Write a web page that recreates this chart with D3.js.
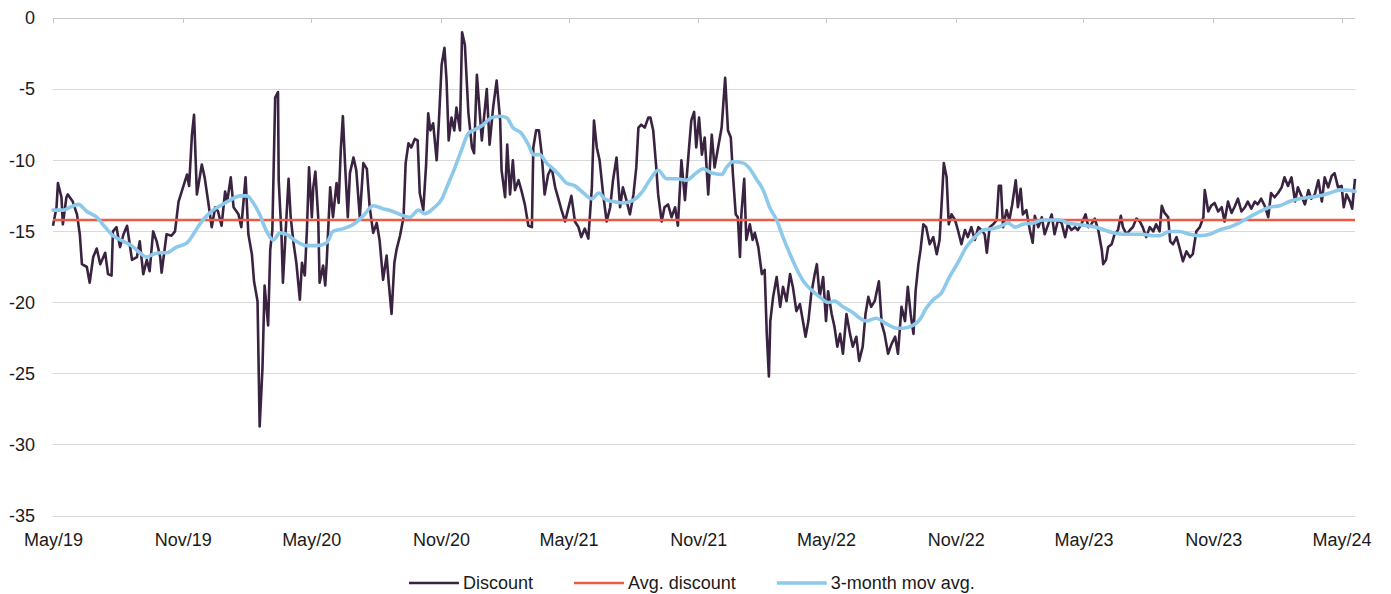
<!DOCTYPE html>
<html><head><meta charset="utf-8">
<script src="https://cdn.jsdelivr.net/npm/d3@7"></script>
<style>
body{margin:0;background:#fff}
svg{display:block}
text{font-family:"Liberation Sans",Arial,sans-serif;}
</style>
</head><body>
<svg id="chart" width="1391" height="594"></svg>
<script>
// ---------- DATA ----------
const startDate = "2019-05-01";
const axisEndDay = 1846; // axis runs to ~20 May 2024
const xTickDates = ["2019-05-01","2019-11-01","2020-05-01","2020-11-01","2021-05-01","2021-11-01",
                    "2022-05-01","2022-11-01","2023-05-01","2023-11-01","2024-05-01"];
const yTicks = [0,-5,-10,-15,-20,-25,-30,-35];
const avgDiscount = -14.2;
const seriesNames = ["Discount","Avg. discount","3-month mov avg."];

// discount observations: day offset from startDate, and value (%)
const discountDayOffsets = [
0,5,7,12,14,19,21,28,34,38,
41,48,52,57,62,67,74,78,83,85,
90,95,100,105,112,119,123,128,133,137,
142,147,152,154,161,168,173,178,185,190,
193,197,200,204,211,215,220,225,230,234,
239,244,247,252,256,263,267,273,277,282,
285,290,293,297,300,305,308,311,315,319,
320,324,326,330,334,337,341,345,350,353,
357,360,363,367,369,372,376,378,383,386,
388,393,397,402,405,408,411,414,418,421,
426,430,435,440,445,449,454,459,463,468,
473,476,480,484,487,492,497,500,504,508,
513,517,520,525,529,532,535,539,544,547,
551,555,558,561,565,569,572,577,580,584,
589,594,597,601,608,615,619,624,629,634,
636,641,644,648,652,655,660,664,669,674,
679,681,685,689,693,697,702,707,712,716,
721,726,730,735,740,745,749,754,759,764,
767,771,775,780,785,790,794,799,804,808,
813,818,823,827,830,834,839,844,847,851,
855,858,863,867,872,877,882,886,891,896,
901,905,909,912,916,920,924,929,934,938,
943,948,953,957,961,964,968,971,974,976,
980,983,988,992,995,1000,1005,1009,1012,1015,
1017,1021,1026,1031,1035,1040,1045,1049,1054,1059,
1064,1067,1071,1075,1080,1083,1087,1092,1096,1099,
1104,1108,1112,1116,1120,1125,1130,1134,1139,1143,
1148,1152,1156,1160,1165,1171,1175,1179,1184,1189,
1194,1198,1203,1208,1212,1216,1220,1223,1227,1230,
1234,1238,1243,1248,1253,1257,1261,1263,1267,1270,
1274,1279,1283,1288,1293,1297,1302,1307,1312,1316,
1321,1324,1328,1333,1338,1341,1344,1347,1352,1356,
1360,1365,1368,1372,1375,1380,1385,1389,1392,1397,
1402,1406,1411,1416,1420,1425,1430,1435,1439,1444,
1449,1453,1458,1464,1468,1472,1477,1482,1487,1489,
1493,1496,1501,1505,1510,1514,1517,1522,1527,1531,
1536,1541,1545,1550,1555,1560,1564,1569,1572,1576,
1581,1584,1588,1593,1597,1602,1607,1612,1616,1621,
1626,1631,1633,1638,1642,1647,1652,1657,1661,1666,
1671,1675,1680,1685,1690,1694,1699,1704,1708,1713,
1718,1723,1727,1732,1737,1742,1746,1751,1756,1761,
1765,1770,1775,1780,1784,1789,1794,1799,1803,1808,
1813,1817,1822,1827,1830,1834,1839,1842,1846
];
const discountValues = [
-14.6,-13.3,-11.6,-12.6,-14.5,-12.6,-12.4,-12.9,-13.8,-15.2,
-17.3,-17.5,-18.6,-16.8,-16.2,-17.3,-16.5,-18,-18.1,-15,
-14.7,-16.1,-15.2,-14.6,-17,-16.8,-15.7,-18,-17,-17.8,
-15,-15.7,-16.8,-17.9,-15.2,-15.3,-15,-12.9,-11.8,-11,
-11.8,-8.2,-6.8,-12.4,-10.3,-11.2,-12.9,-14.7,-13.3,-13.6,
-14.6,-12.2,-12.9,-11.2,-13.3,-13.8,-14.7,-11.2,-15.2,-16.6,
-18.5,-19.9,-28.7,-24.6,-18.8,-21.6,-16.3,-14.9,-5.6,-5.2,
-11.4,-15.3,-18.6,-14.9,-11.3,-14,-15.8,-17.2,-19.8,-17.2,
-18.1,-14.9,-10.5,-14,-11.9,-10.8,-14,-18.6,-17.4,-18.8,
-17.2,-11.9,-14,-11.6,-13,-9.3,-6.9,-10.2,-14,-10.9,
-9.8,-10.7,-14,-10.2,-10.6,-13.3,-15.1,-14.4,-15.6,-18.4,
-16.7,-18.6,-20.8,-17.2,-16.3,-15.3,-14,-10.2,-8.8,-9.1,
-8.5,-8.6,-12.3,-13.5,-10.3,-6.7,-7.9,-7.4,-10,-7.4,
-3.3,-2.1,-4.4,-8.6,-7,-7.9,-6.3,-7.9,-1,-1.9,
-6.7,-9.1,-9.5,-4,-8.6,-5,-8.9,-6.3,-4.4,-7.2,
-10.7,-12.6,-8.9,-12.4,-10,-12.1,-11.4,-12.1,-13.1,-14.6,
-14.7,-9.1,-7.9,-7.9,-9.6,-12.4,-11,-10.5,-11.9,-12.6,
-13.5,-14.3,-13.5,-12.5,-14.3,-14.7,-15.4,-14.8,-15.5,-11.9,
-7.2,-9.1,-10,-12.4,-14.3,-13.3,-11.4,-9.8,-13.3,-11.9,
-12.8,-13.8,-12.4,-10.5,-7.7,-7.5,-7.7,-7,-7,-7.9,
-10.3,-12.4,-14.3,-13.3,-13.1,-14,-13.3,-14.6,-10,-12.8,
-9.6,-7.2,-6.6,-9.1,-7,-9.6,-8.4,-12.4,-8.2,-10.5,
-9.1,-7.7,-4.2,-7.9,-8.4,-11,-13.8,-14,-16.8,-13.8,
-11.3,-15.6,-14.5,-15.6,-15.1,-16.1,-18,-17.7,-22.2,-25.2,
-21.3,-19.6,-18.2,-20.3,-18.9,-19.9,-18,-18.9,-20.6,-20.1,
-21.5,-22.4,-21.3,-19.4,-18,-17.3,-19.6,-18.2,-21.3,-19.2,
-20.8,-21.7,-23.1,-22.2,-23.6,-20.8,-22.2,-23.1,-22.4,-24.1,
-23.1,-20.8,-19.6,-20.3,-19.9,-18.5,-21.5,-22.2,-23.6,-22.9,
-22.4,-23.6,-20.3,-21.3,-18.9,-20.8,-22.2,-19.2,-17.3,-16.3,
-14.5,-14.7,-15.9,-15.4,-16.6,-15.6,-12.1,-10.2,-11.2,-14.5,
-13.8,-14.2,-14.9,-15.9,-14.9,-15.4,-14.7,-15.6,-14.7,-14.9,
-15.2,-16.5,-14.7,-14.5,-14.2,-11.8,-11.8,-14.7,-13.5,-14.2,
-13.1,-11.4,-13.3,-12,-13.8,-13.5,-14.9,-15.8,-13.9,-14.7,
-14,-15.2,-14.5,-13.8,-15.2,-14.2,-14.4,-15.4,-14.5,-14.9,
-14.7,-14.9,-14.5,-13.8,-14.7,-14.5,-14.1,-14.9,-16.3,-17.3,
-17,-16.1,-15.9,-15.2,-14.9,-13.9,-14.7,-15.2,-14.9,-14.7,
-14.1,-14.3,-14.7,-15.4,-14.7,-15,-14.5,-15,-13.2,-13.7,
-14,-15.7,-15.9,-15.4,-16.1,-17.1,-16.4,-16.8,-16.6,-15,
-14.7,-14,-12.1,-13.6,-13.2,-13,-13.6,-13.3,-14.3,-12.9,
-13.7,-13.3,-12.7,-13.6,-13.3,-12.9,-13.4,-12.9,-13.1,-12.7,
-13.2,-14,-12.3,-12.6,-12.3,-11.9,-11.2,-11.8,-11.2,-12.9,
-11.9,-12.5,-13.1,-12.1,-12.7,-12.4,-11.4,-12.9,-11.2,-11.9,
-11.1,-10.9,-11.9,-11.8,-13.3,-12.4,-12.9,-13.4,-11.3
];

// 3-month moving average: day offset and value
const maDayOffsets = [
0,15,24,36,48,62,74,85,100,114,123,133,142,152,161,175,190,199,208,218,
227,237,251,265,275,284,293,302,312,322,331,345,360,374,388,397,412,426,440,454,
468,482,494,506,518,527,541,551,560,570,579,589,598,610,622,634,643,652,664,674,
681,690,700,709,719,728,740,752,764,774,782,794,808,823,834,846,858,870,884,898,
912,922,934,948,955,964,979,988,997,1007,1016,1026,1035,1045,1054,1064,1075,1087,1099,1108,
1120,1134,1144,1153,1167,1182,1196,1205,1219,1229,1238,1248,1260,1271,1283,1295,1307,1319,1333,1345,
1354,1364,1375,1390,1404,1418,1427,1439,1451,1465,1479,1491,1503,1517,1531,1545,1560,1569,1583,1597,
1612,1626,1640,1654,1668,1682,1696,1711,1725,1739,1753,1767,1781,1796,1810,1824,1836,1846
];
const maValues = [
-13.5,-13.5,-13.3,-13.1,-13.6,-14.0,-14.7,-15.3,-15.7,-16.1,-16.5,-16.8,-16.6,-16.5,-16.5,-16.1,-15.8,-15.2,-14.5,-13.9,
-13.5,-13.2,-12.8,-12.5,-12.5,-13.0,-13.8,-14.9,-15.6,-15.1,-15.2,-15.7,-16.0,-16.0,-15.8,-15.0,-14.8,-14.5,-13.9,-13.2,
-13.4,-13.6,-13.85,-14.0,-13.5,-13.75,-13.3,-12.75,-11.7,-10.5,-9.3,-8.1,-7.85,-7.5,-7.0,-6.9,-7.0,-7.7,-8.1,-8.9,
-9.6,-9.6,-10.2,-10.6,-11.1,-11.6,-11.8,-12.3,-12.7,-12.3,-12.7,-12.9,-13.0,-12.8,-12.3,-11.4,-10.7,-11.3,-11.3,-11.4,
-10.9,-10.6,-10.9,-11.0,-10.5,-10.1,-10.2,-10.6,-11.3,-12.1,-13.3,-14.2,-15.4,-16.6,-17.6,-18.5,-19.1,-19.6,-20.0,-19.9,
-20.3,-20.7,-21.1,-21.3,-21.1,-21.5,-21.8,-21.8,-21.6,-21.2,-20.4,-19.8,-19.3,-18.2,-17.2,-16.1,-15.4,-14.9,-14.8,-14.6,
-14.4,-14.7,-14.5,-14.4,-14.2,-14.2,-14.2,-14.4,-14.5,-14.6,-14.7,-14.9,-15.1,-15.2,-15.2,-15.2,-15.3,-15.3,-15.0,-15.0,
-15.2,-15.3,-15.2,-14.9,-14.7,-14.4,-14.0,-13.6,-13.3,-13.2,-12.9,-12.7,-12.6,-12.5,-12.3,-12.1,-12.1,-12.2
];

// ---------- CHART ----------
const W = 1391, H = 594;
const margin = {top: 18, right: 36, bottom: 78, left: 53};
const colors = {discount: "#3a2341", avg: "#ef5a45", ma: "#8dc9ea", grid: "#d9d9d9", axis: "#c6c6c6", text: "#1a1a1a"};

const parse = d3.utcParse("%Y-%m-%d");
const start = parse(startDate);
const toDate = d => d3.utcDay.offset(start, d);

const svg = d3.select("#chart");
const x = d3.scaleUtc().domain([start, toDate(axisEndDay)]).range([margin.left, W - margin.right]);
const y = d3.scaleLinear().domain([-35, 0]).range([H - margin.bottom, margin.top]);

// gridlines
svg.append("g").selectAll("line").data(yTicks.filter(t => t !== 0)).join("line")
  .attr("x1", margin.left).attr("x2", W - margin.right)
  .attr("y1", d => y(d)).attr("y2", d => y(d))
  .attr("stroke", colors.grid).attr("stroke-width", 1).attr("shape-rendering", "crispEdges");

// x axis line at 0 with inner ticks
const tickDates = xTickDates.map(parse);
const topAxis = svg.append("g").attr("transform", `translate(0,${y(0)})`)
  .call(d3.axisBottom(x).tickValues(tickDates).tickSize(5).tickSizeOuter(0).tickFormat(""));
topAxis.selectAll("path,line").attr("stroke", colors.axis).attr("shape-rendering", "crispEdges");
topAxis.select(".domain").attr("d", `M${margin.left},0H${W - margin.right}`);

// x labels at bottom
const xLab = svg.append("g").attr("transform", `translate(0,${y(-35)})`)
  .call(d3.axisBottom(x).tickValues(tickDates).tickSize(0).tickPadding(17).tickFormat(d3.utcFormat("%b/%y")));
xLab.select(".domain").remove();
xLab.selectAll("text").attr("font-size", 18).attr("fill", colors.text)
  .attr("font-family", '"Liberation Sans", Arial, sans-serif');

// y labels (plain hyphen-minus as in the source)
const yLab = svg.append("g").attr("transform", `translate(${margin.left},0)`)
  .call(d3.axisLeft(y).tickValues(yTicks).tickSize(0).tickPadding(18).tickFormat(d => String(d)));
yLab.select(".domain").remove();
yLab.selectAll("text").attr("font-size", 18).attr("fill", colors.text)
  .attr("font-family", '"Liberation Sans", Arial, sans-serif');

// series
const discount = discountDayOffsets.map((d, i) => ({date: toDate(d), v: discountValues[i]}));
const ma = maDayOffsets.map((d, i) => ({date: toDate(d), v: maValues[i]}));

svg.append("path").datum(discount)
  .attr("fill", "none").attr("stroke", colors.discount).attr("stroke-width", 2.6)
  .attr("stroke-linejoin", "round")
  .attr("d", d3.line().x(d => x(d.date)).y(d => y(d.v)));

svg.append("line")
  .attr("x1", margin.left).attr("x2", W - margin.right)
  .attr("y1", y(avgDiscount)).attr("y2", y(avgDiscount))
  .attr("stroke", colors.avg).attr("stroke-width", 2.6);

svg.append("path").datum(ma)
  .attr("fill", "none").attr("stroke", colors.ma).attr("stroke-width", 3.6)
  .attr("stroke-linejoin", "round").attr("stroke-linecap", "round")
  .attr("d", d3.line().curve(d3.curveMonotoneX).x(d => x(d.date)).y(d => y(d.v)));

// legend
const legendColors = [colors.discount, colors.avg, colors.ma];
const legendWidths = [2.6, 2.6, 3.6];
const lg = svg.append("g");
let lx = 409;
const ly = 583;
seriesNames.forEach((name, i) => {
  lg.append("line").attr("x1", lx).attr("x2", lx + 50).attr("y1", ly).attr("y2", ly)
    .attr("stroke", legendColors[i]).attr("stroke-width", legendWidths[i]);
  const t = lg.append("text").attr("x", lx + 54).attr("y", ly).attr("dy", "0.35em")
    .attr("font-size", 18).attr("fill", colors.text).text(name);
  lx += 54 + t.node().getComputedTextLength() + 41;
});
</script>
</body></html>
